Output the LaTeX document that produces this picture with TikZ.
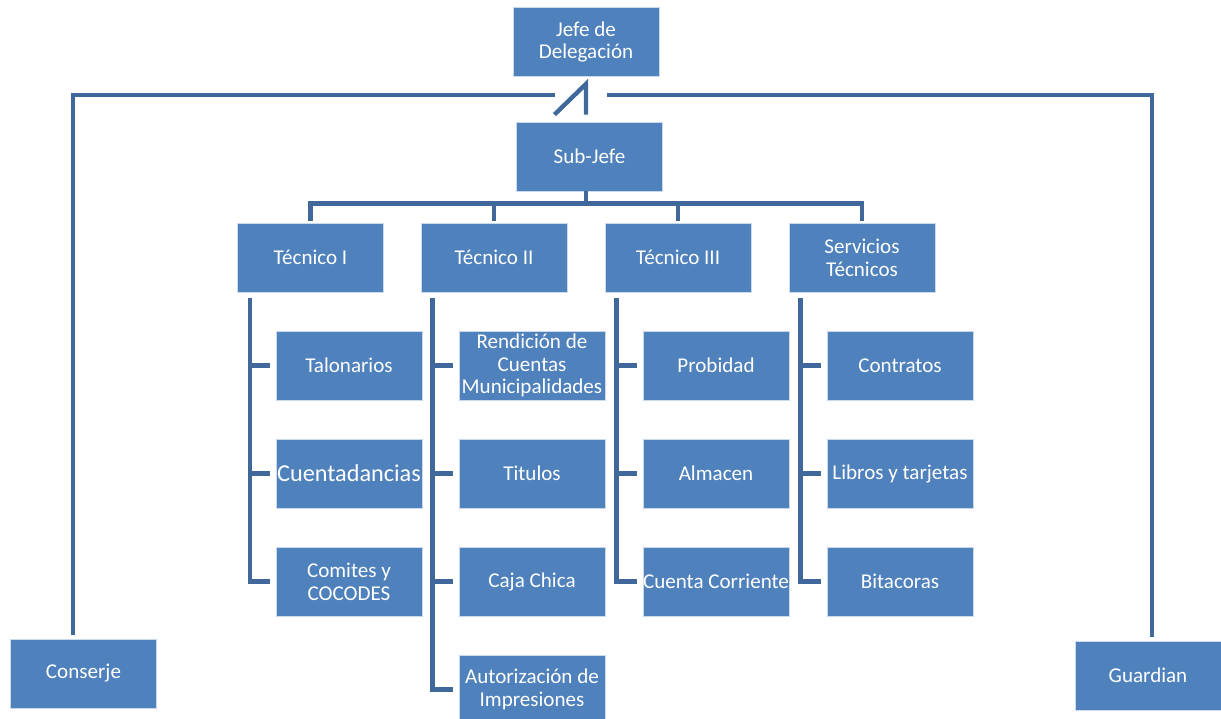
\documentclass[tikz,border=0pt]{standalone}
\usepackage{fontspec}
\setmainfont{Carlito}
\usetikzlibrary{calc}
\definecolor{boxblue}{HTML}{4F81BD}
\definecolor{lineblue}{HTML}{41689B}

\begin{document}
\begin{tikzpicture}[x=0.02cm, y=-0.02cm,
    unit/.style={draw=white!70!boxblue, line width=0.5pt, fill=boxblue, text=white,
      minimum width=2.92cm, minimum height=1.38cm, align=center, inner sep=0pt,
      font=\fontsize{12}{13}\selectfont},
    link/.style={lineblue, line width=2.5pt}]
    \useasboundingbox (0,0) rectangle (1221,719);

    % Head and second in charge
    \node[unit] (jefe) at (586,42) {Jefe de\\Delegación};
    \node[unit] (sub) at (589.5,156.5) {Sub-Jefe};

    % Side units
    \node[unit] (conserje) at (83.5,673.5) {Conserje};
    \node[unit] (guardian) at (1148,675.5) {Guardian};

    % Technical areas
    \node[unit] (tec1) at (310.5,257.5) {Técnico I};
    \node[unit] (tec2) at (494,257.5) {Técnico II};
    \node[unit] (tec3) at (678,257.5) {Técnico III};
    \node[unit] (serv) at (862,257.5) {Servicios\\Técnicos};

    % Tasks of Tecnico I
    \node[unit] (talon) at (349,365.5) {Talonarios};
    \node[unit, font=\fontsize{13.8}{15}\selectfont] (cuenta) at (349,473.5) {Cuentadancias};
    \node[unit] (comites) at (349,581.5) {Comites y\\COCODES};

    % Tasks of Tecnico II
    \node[unit] (rend) at (532,365.5) {Rendición de\\Cuentas\\Municipalidades};
    \node[unit] (titulos) at (532,473.5) {Titulos};
    \node[unit] (caja) at (532,581.5) {Caja Chica};
    \node[unit] (autor) at (532,689.5) {Autorización de\\Impresiones};

    % Tasks of Tecnico III
    \node[unit] (probidad) at (716,365.5) {Probidad};
    \node[unit] (almacen) at (716,473.5) {Almacen};
    \node[unit] (corriente) at (716,581.5) {Cuenta Corriente};

    % Tasks of Servicios Tecnicos
    \node[unit] (contratos) at (900,365.5) {Contratos};
    \node[unit] (libros) at (900,473.5) {Libros y tarjetas};
    \node[unit] (bitacoras) at (900,581.5) {Bitacoras};

    % Lines from the head
    \coordinate (apex) at ($(jefe.south)+(0,7)$);
    \coordinate (lgap) at (555,95);
    \coordinate (rgap) at (607,95);
    \draw[link, miter limit=10] ($(sub.north)+(-35,-7)$) -- (apex) -- ($(sub.north)+(-3.5,-7)$);
    \draw[link] (lgap) -| ($(conserje.north)+(-10.5,-4)$);
    \draw[link] (rgap) -| ($(guardian.north)+(4,-4)$);

    % Lines from the sub-jefe
    \draw[link] ($(sub.south)+(-3.5,0)$) -- ++(0,12) coordinate (fork);
    \foreach \t in {tec1,tec2,tec3,serv}
        \draw[link, shorten >=0.04cm] (fork) -| (\t.north);

    % Lines to the tasks
    \coordinate (t1) at ($(tec1.south west)+(13,6)$);
    \coordinate (t2) at ($(tec2.south west)+(12,6)$);
    \coordinate (t3) at ($(tec3.south west)+(12,6)$);
    \coordinate (t4) at ($(serv.south west)+(12,6)$);
    \foreach \c in {talon,cuenta,comites}
        \draw[link, shorten >=0.12cm] (t1) |- (\c.west);
    \foreach \c in {rend,titulos,caja,autor}
        \draw[link, shorten >=0.12cm] (t2) |- (\c.west);
    \foreach \c in {probidad,almacen,corriente}
        \draw[link, shorten >=0.12cm] (t3) |- (\c.west);
    \foreach \c in {contratos,libros,bitacoras}
        \draw[link, shorten >=0.12cm] (t4) |- (\c.west);
\end{tikzpicture}
\end{document}
